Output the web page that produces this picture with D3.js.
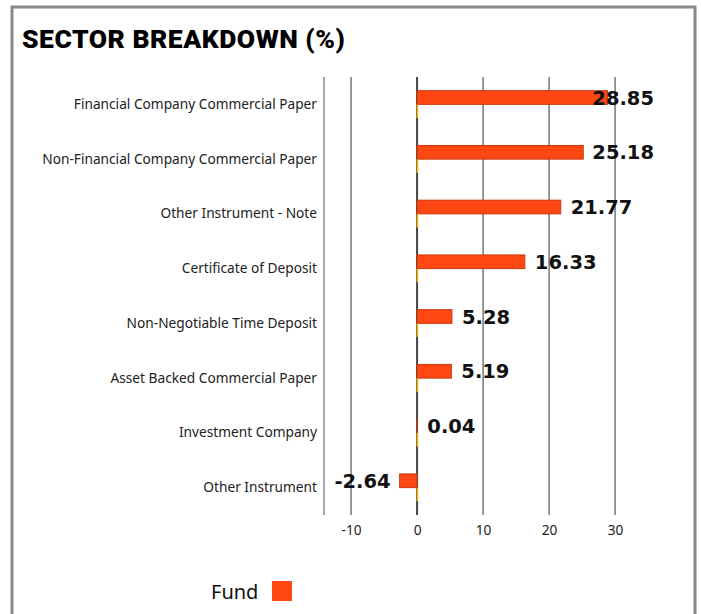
<!DOCTYPE html>
<html>
<head>
<meta charset="utf-8">
<script src="https://cdn.jsdelivr.net/npm/d3@7"></script>
<style>
    body { margin: 0; background: #fff; }
    #chart { width: 701px; height: 614px; }
    .axis-label { font-family: "Noto Sans", sans-serif; font-size: 13.7px; fill: #222; }
    .value-label { font-family: "DejaVu Sans", sans-serif; font-weight: bold; font-size: 19.5px; fill: #111; }
</style>
</head>
<body>
<div id="chart"></div>
<script>

// chart data
let categories = [
    "Financial Company Commercial Paper",
    "Non-Financial Company Commercial Paper",
    "Other Instrument - Note",
    "Certificate of Deposit",
    "Non-Negotiable Time Deposit",
    "Asset Backed Commercial Paper",
    "Investment Company",
    "Other Instrument"
];
let fundValues = [28.85, 25.18, 21.77, 16.33, 5.28, 5.19, 0.04, -2.64];
let otherValues = [0, 0, 0, 0, 0, 0, 0, 0];
let xTicks = [-10, 0, 10, 20, 30];
let seriesNames = ["Fund", "Other"];

let width = 701, height = 614;

let svg = d3.select("#chart").append("svg")
    .attr("width", width)
    .attr("height", height);

// outer frame
svg.append("rect")
    .attr("x", 12).attr("y", 7)
    .attr("width", 683).attr("height", 640)
    .attr("fill", "none")
    .attr("stroke", "#888")
    .attr("stroke-width", 3);

// title
svg.append("text")
    .attr("x", 22).attr("y", 48)
    .attr("font-family", "Roboto, sans-serif")
    .attr("font-weight", 900)
    .attr("font-size", 26.5)
    .attr("letter-spacing", 0.5)
    .attr("fill", "#000")
    .text("SECTOR BREAKDOWN (%)");

// plot area
let plot = {left: 324, right: 655, top: 77, bottom: 515};

let x = d3.scaleLinear()
    .domain([-14.1, 36.05])
    .range([plot.left, plot.right]);

let y = d3.scaleBand()
    .domain(categories)
    .range([plot.top, plot.bottom])
    .paddingInner(0.5)
    .paddingOuter(0.25);

let ySub = d3.scaleBand()
    .domain(seriesNames)
    .range([0, y.bandwidth()]);

// grid lines
let grid = svg.append("g");
grid.selectAll("line.grid")
    .data(xTicks)
    .enter().append("line")
    .attr("class", "grid")
    .attr("x1", d => x(d)).attr("x2", d => x(d))
    .attr("y1", plot.top).attr("y2", plot.bottom)
    .attr("stroke", d => d === 0 ? "#444" : "#333")
    .attr("stroke-width", d => d === 0 ? 2 : 1);

// left border of plot
grid.append("line")
    .attr("x1", x(-14.1)).attr("x2", x(-14.1))
    .attr("y1", plot.top).attr("y2", plot.bottom)
    .attr("stroke", "#555")
    .attr("stroke-width", 1);

// x axis tick labels
let xAxis = d3.axisBottom(x)
    .tickValues(xTicks)
    .tickFormat(d => String(d))
    .tickSize(0)
    .tickPadding(10);

svg.append("g")
    .attr("transform", `translate(0, ${plot.bottom})`)
    .call(xAxis)
    .call(g => g.select(".domain").remove())
    .selectAll("text")
    .attr("class", "axis-label")
    .attr("font-size", null)
    .attr("font-family", null)
    .attr("fill", null);

// y axis labels
let yAxis = d3.axisLeft(y)
    .tickSize(0)
    .tickPadding(7);

svg.append("g")
    .attr("transform", `translate(${plot.left}, 0)`)
    .call(yAxis)
    .call(g => g.select(".domain").remove())
    .selectAll("text")
    .attr("class", "axis-label")
    .attr("font-size", null)
    .attr("font-family", null)
    .attr("fill", null);

// bars
let rows = categories.map((c, i) => ({cat: c, fund: fundValues[i], other: otherValues[i]}));

svg.selectAll(".bar-fund")
    .data(rows)
    .enter().append("rect")
    .attr("class", "bar-fund")
    .attr("x", d => x(Math.min(0, d.fund)))
    .attr("y", d => y(d.cat) + ySub("Fund"))
    .attr("width", d => Math.abs(x(d.fund) - x(0)))
    .attr("height", ySub.bandwidth())
    .attr("fill", "#ff4713")
    .attr("stroke", "#c8380e")
    .attr("stroke-width", 1);

// second series is all zero, keep a hairline so it stays visible
svg.selectAll(".bar-other")
    .data(rows)
    .enter().append("rect")
    .attr("class", "bar-other")
    .attr("x", d => x(Math.min(0, d.other)) - 0.5)
    .attr("y", d => y(d.cat) + ySub("Other"))
    .attr("width", d => Math.max(1.5, Math.abs(x(d.other) - x(0))))
    .attr("height", ySub.bandwidth())
    .attr("fill", "#f2b600");

// value labels
svg.selectAll(".value-label")
    .data(rows)
    .enter().append("text")
    .attr("class", "value-label")
    .attr("y", d => y(d.cat) + ySub("Fund") + ySub.bandwidth() / 2)
    .attr("dy", "0.36em")
    .text(d => d.fund.toFixed(2))
    .each(function(d) {
        let t = d3.select(this);
        if (d.fund < 0) {
            t.attr("x", x(d.fund) - 9).attr("text-anchor", "end");
        } else {
            let w = this.getComputedTextLength();
            let pos = Math.min(x(d.fund) + 10, 654 - w);
            t.attr("x", pos).attr("text-anchor", "start");
        }
    });

// legend
let legend = svg.append("g");
legend.append("text")
    .attr("x", 211).attr("y", 599)
    .attr("font-family", "'Noto Sans', sans-serif")
    .attr("font-size", 20)
    .attr("fill", "#111")
    .text("Fund");
legend.append("rect")
    .attr("x", 272).attr("y", 581)
    .attr("width", 20).attr("height", 20)
    .attr("fill", "#ff4713");

</script>
</body>
</html>
